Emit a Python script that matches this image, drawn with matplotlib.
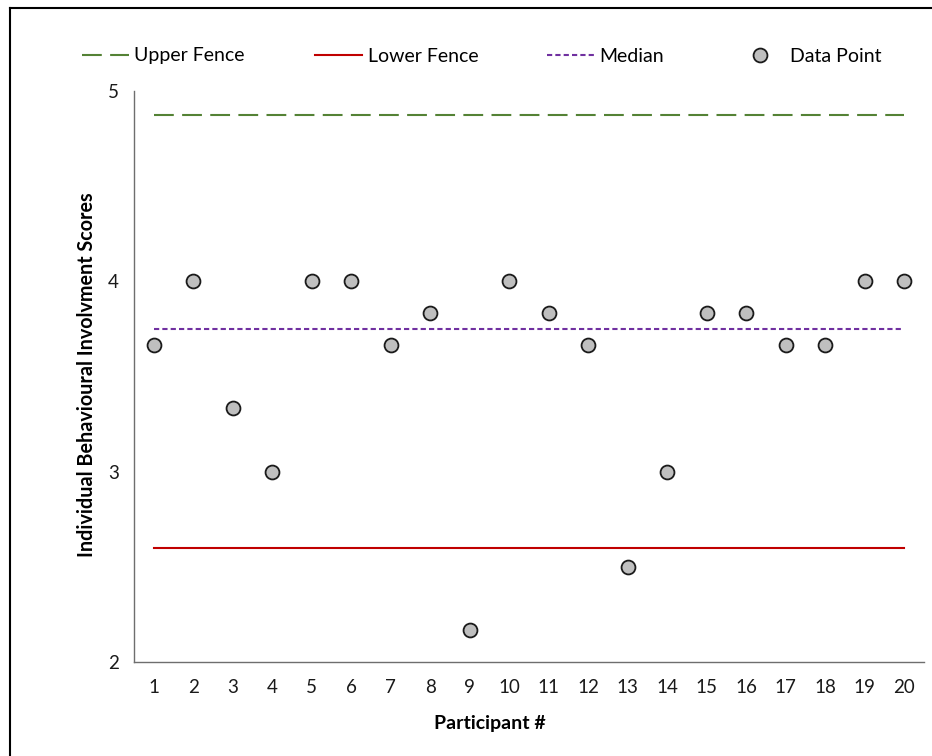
import matplotlib
matplotlib.use("Agg")
import matplotlib.pyplot as plt
from matplotlib.lines import Line2D

plt.rcParams['font.family'] = ['Lato', 'DejaVu Sans']

participants = list(range(1, 21))
scores = [3.667, 4.0, 3.333, 3.0, 4.0, 4.0, 3.667, 3.833, 2.167, 4.0,
          3.833, 3.667, 2.5, 3.0, 3.833, 3.833, 3.667, 3.667, 4.0, 4.0]
upper_fence = 4.875
lower_fence = 2.6
median = 3.75
y_ticks = [2, 3, 4, 5]

fig = plt.figure(figsize=(9.32, 7.56), dpi=100)
ax = fig.add_axes([134/932, 1-662/756, (924-134)/932, (662-91)/756])

ax.plot([participants[0], participants[-1]], [upper_fence]*2, color='#548235',
        lw=1.5, dashes=(9.5, 4), label='Upper Fence', zorder=2)
ax.plot([participants[0], participants[-1]], [lower_fence]*2, color='#C00000',
        lw=1.5, label='Lower Fence', zorder=2)
ax.plot([participants[0], participants[-1]], [median]*2, color='#7030A0',
        lw=1.5, dashes=(2.5, 1.5), label='Median', zorder=2)
ax.plot(participants, scores, ls='none', marker='o', ms=10, mfc='#BFBFBF',
        mec='#1a1a1a', mew=1.3, label='Data Point', zorder=3)

ax.set_xlim(0.5, 20.5)
ax.set_ylim(2, 5)
ax.set_yticks(y_ticks)
ax.set_xticks(participants)
ax.set_xticklabels([str(p) for p in participants])
ax.tick_params(axis='both', length=0, labelsize=13.5, colors='#1a1a1a')
ax.tick_params(axis='y', pad=11)
ax.tick_params(axis='x', pad=12)
for s in ['top', 'right']:
    ax.spines[s].set_visible(False)
for s in ['left', 'bottom']:
    ax.spines[s].set_color('#6e6e6e')
    ax.spines[s].set_linewidth(1.0)

fig.text(490/932, 1-723/756, 'Participant #', ha='center', va='center',
         fontsize=14, fontweight='bold')
fig.text(87/932, 1-375/756, 'Individual Behavioural Involvment Scores',
         ha='center', va='center', rotation=90, fontsize=14.2, fontweight='bold')

handles, labels = ax.get_legend_handles_labels()
starts = [82, 315, 547, 737]
for h, l, x0 in zip(handles, labels, starts):
    fig.legend([h], [l], loc='center left', bbox_to_anchor=(x0/932, 1-56/756),
               frameon=False, fontsize=14, handlelength=2.4, handletextpad=0.3,
               borderpad=0, borderaxespad=0)

# outer frame (left and top visible)
fig.add_artist(Line2D([10/932, 10/932], [0, 1-7.5/756], transform=fig.transFigure,
                      color='black', lw=1.5))
fig.add_artist(Line2D([10/932, 1], [1-7.5/756, 1-7.5/756], transform=fig.transFigure,
                      color='black', lw=1.5))

fig.savefig('out.png', dpi=100)
